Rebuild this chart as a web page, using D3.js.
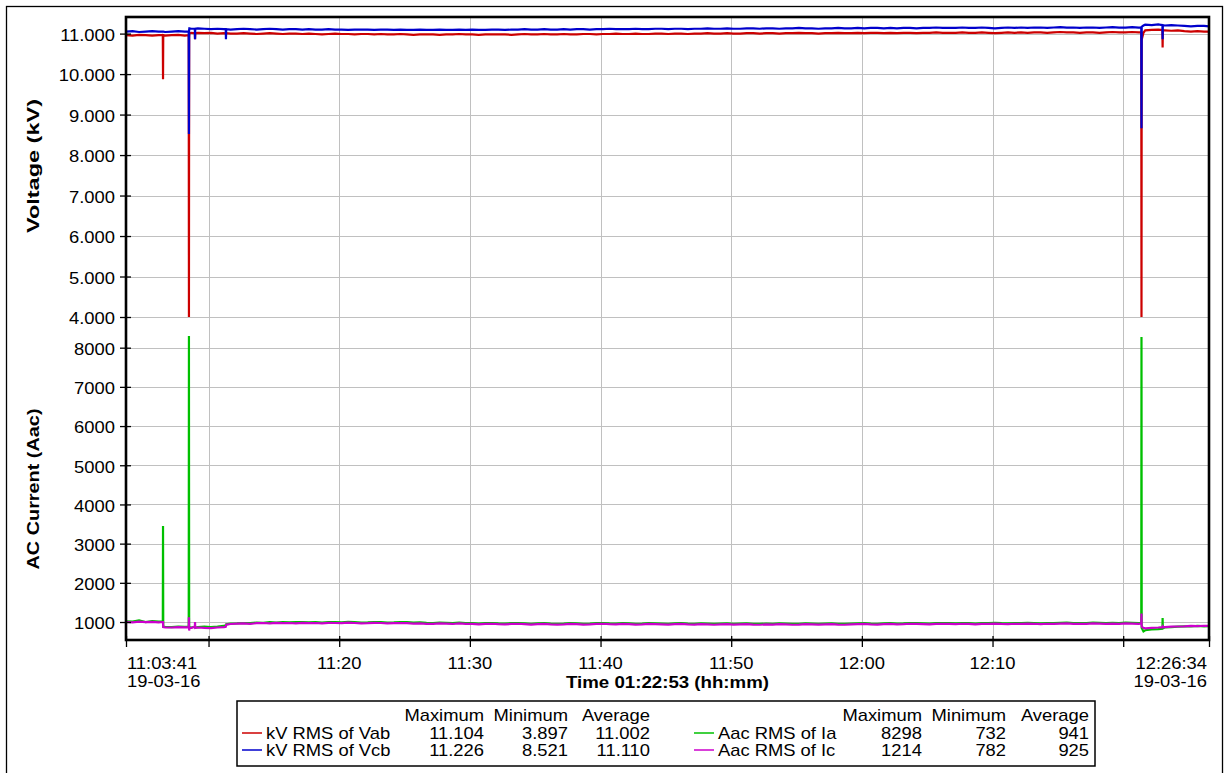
<!DOCTYPE html>
<html>
<head>
<meta charset="utf-8">
<script src="https://cdn.jsdelivr.net/npm/d3@7"></script>
<style>
  body { margin: 0; background: #fff; }
  text { font-family: Arial, "Liberation Sans", sans-serif; fill: #000; }
</style>
</head>
<body>
<svg id="chart" width="1232" height="773"></svg>
<script>
// ---- Recording window ----
const startStamp = "2016-03-19T11:03:41";
const endStamp = "2016-03-19T12:26:34";

// Sample times, seconds after the start of the recording
const sampleSec = [
  0, 30, 60, 90, 120, 150, 169, 170, 171, 180,
  210, 240, 270, 288, 289, 290, 291, 300, 316, 317,
  318, 330, 360, 390, 420, 450, 458, 459, 460, 480,
  510, 540, 570, 600, 630, 660, 690, 720, 750, 780,
  810, 840, 870, 900, 930, 960, 990, 1020, 1050, 1080,
  1110, 1140, 1170, 1200, 1230, 1260, 1290, 1320, 1350, 1380,
  1410, 1440, 1470, 1500, 1530, 1560, 1590, 1620, 1650, 1680,
  1710, 1740, 1770, 1800, 1830, 1860, 1890, 1920, 1950, 1980,
  2010, 2040, 2070, 2100, 2130, 2160, 2190, 2220, 2250, 2280,
  2310, 2340, 2370, 2400, 2430, 2460, 2490, 2520, 2550, 2580,
  2610, 2640, 2670, 2700, 2730, 2760, 2790, 2820, 2850, 2880,
  2910, 2940, 2970, 3000, 3030, 3060, 3090, 3120, 3150, 3180,
  3210, 3240, 3270, 3300, 3330, 3360, 3390, 3420, 3450, 3480,
  3510, 3540, 3570, 3600, 3630, 3660, 3690, 3720, 3750, 3780,
  3810, 3840, 3870, 3900, 3930, 3960, 3990, 4020, 4050, 4080,
  4110, 4140, 4170, 4200, 4230, 4260, 4290, 4320, 4350, 4380,
  4410, 4440, 4470, 4500, 4530, 4560, 4590, 4620, 4650,
  4662, 4663, 4664, 4672, 4680, 4710, 4740, 4759, 4760, 4761,
  4770, 4800, 4830, 4860, 4890, 4920, 4950, 4973
];

// kV RMS of Vab
const vab = [
  10.96, 10.95, 10.97, 10.96, 10.95, 10.96, 10.96, 9.87, 10.96, 10.95,
  10.96, 10.97, 10.95, 10.96, 3.897, 10.92, 11.00, 11.02, 11.01, 10.86,
  11.01, 11.02, 11.01, 11.02, 11.00, 11.01, 11.00, 11.00, 11.01, 11.00,
  11.00, 11.01, 11.00, 10.99, 11.00, 11.01, 11.00, 10.99, 11.00, 11.00,
  10.99, 11.00, 10.99, 10.98, 10.99, 11.00, 10.99, 10.99, 10.98, 10.99,
  10.99, 10.98, 10.99, 10.98, 10.98, 10.99, 10.98, 10.97, 10.98, 10.98,
  10.98, 10.97, 10.98, 10.98, 10.99, 10.98, 10.98, 10.97, 10.98, 10.98,
  10.98, 10.98, 10.97, 10.98, 10.99, 10.98, 10.98, 10.99, 10.98, 10.98,
  10.99, 10.98, 10.98, 10.99, 10.99, 10.98, 10.99, 10.99, 11.00, 10.99,
  10.99, 11.00, 10.99, 10.99, 11.00, 11.00, 10.99, 11.00, 11.00, 10.99,
  11.00, 11.00, 11.01, 11.00, 11.00, 11.01, 11.00, 11.00, 11.01, 11.01,
  11.00, 11.01, 11.01, 11.00, 11.01, 11.01, 11.02, 11.01, 11.01, 11.00,
  11.01, 11.01, 11.02, 11.01, 11.01, 11.02, 11.01, 11.02, 11.02, 11.01,
  11.02, 11.01, 11.02, 11.02, 11.01, 11.02, 11.02, 11.03, 11.02, 11.02,
  11.02, 11.03, 11.02, 11.02, 11.03, 11.02, 11.01, 11.02, 11.03, 11.02,
  11.03, 11.02, 11.03, 11.03, 11.02, 11.03, 11.04, 11.03, 11.03, 11.02,
  11.03, 11.03, 11.02, 11.03, 11.04, 11.03, 11.03, 11.04, 11.03,
  11.03, 3.95, 10.85, 11.02, 11.08, 11.09, 11.10, 11.09, 10.66, 11.08,
  11.08, 11.07, 11.08, 11.06, 11.05, 11.06, 11.05, 11.05
];

// kV RMS of Vcb
const vcb = [
  11.05, 11.06, 11.04, 11.05, 11.06, 11.05, 11.05, 11.05, 11.05, 11.04,
  11.05, 11.06, 11.05, 11.05, 8.521, 11.10, 11.13, 11.12, 11.12, 10.86,
  11.12, 11.13, 11.12, 11.11, 11.12, 11.11, 11.11, 10.86, 11.11, 11.10,
  11.11, 11.12, 11.11, 11.10, 11.11, 11.12, 11.11, 11.10, 11.11, 11.11,
  11.10, 11.11, 11.10, 11.10, 11.11, 11.10, 11.10, 11.09, 11.10, 11.10,
  11.10, 11.09, 11.10, 11.10, 11.09, 11.10, 11.09, 11.09, 11.10, 11.09,
  11.09, 11.10, 11.09, 11.09, 11.10, 11.09, 11.10, 11.09, 11.09, 11.10,
  11.10, 11.09, 11.10, 11.10, 11.11, 11.10, 11.10, 11.11, 11.10, 11.10,
  11.11, 11.10, 11.11, 11.11, 11.10, 11.11, 11.11, 11.12, 11.11, 11.11,
  11.11, 11.12, 11.11, 11.11, 11.12, 11.12, 11.11, 11.12, 11.12, 11.11,
  11.12, 11.12, 11.13, 11.12, 11.12, 11.13, 11.12, 11.12, 11.13, 11.13,
  11.12, 11.13, 11.13, 11.12, 11.13, 11.13, 11.14, 11.13, 11.13, 11.12,
  11.13, 11.13, 11.14, 11.13, 11.13, 11.14, 11.13, 11.14, 11.14, 11.13,
  11.14, 11.13, 11.14, 11.14, 11.13, 11.14, 11.14, 11.15, 11.14, 11.14,
  11.14, 11.15, 11.14, 11.14, 11.15, 11.14, 11.13, 11.14, 11.15, 11.14,
  11.15, 11.14, 11.15, 11.15, 11.14, 11.15, 11.16, 11.15, 11.15, 11.14,
  11.15, 11.15, 11.14, 11.15, 11.16, 11.15, 11.15, 11.16, 11.15,
  11.15, 8.66, 11.17, 11.20, 11.22, 11.21, 11.226, 11.21, 10.86, 11.21,
  11.20, 11.21, 11.20, 11.19, 11.18, 11.19, 11.19, 11.18
];

// Aac RMS of Ia
const ia = [
  1020, 1010, 1040, 1000, 1020, 1010, 1020, 3449, 880, 875,
  870, 880, 875, 880, 8298, 900, 870, 860, 880, 870,
  860, 870, 880, 870, 880, 900, 920, 930, 940, 960,
  965, 975, 970, 985, 980, 995, 985, 1000, 990, 995,
  1000, 990, 995, 985, 1000, 995, 990, 1005, 995, 985,
  990, 1000, 995, 985, 990, 1000, 995, 985, 990, 980,
  975, 985, 980, 970, 985, 975, 970, 960, 970, 975,
  965, 960, 970, 975, 965, 955, 965, 970, 960, 955,
  960, 970, 965, 955, 960, 970, 975, 965, 960, 970,
  965, 955, 960, 970, 965, 960, 955, 965, 970, 960,
  955, 965, 960, 950, 960, 965, 955, 960, 965, 955,
  950, 960, 955, 965, 960, 950, 955, 965, 960, 955,
  960, 965, 955, 950, 960, 965, 970, 960, 955, 965,
  970, 960, 965, 975, 970, 965, 960, 970, 975, 970,
  965, 975, 970, 960, 970, 975, 980, 970, 965, 975,
  970, 980, 975, 965, 975, 970, 980, 985, 975, 970,
  975, 985, 980, 970, 980, 975, 985, 980, 975,
  980, 8270, 850, 760, 790, 810, 820, 830, 1100, 840,
  860, 870, 880, 890, 885, 900, 890, 895
];

// Aac RMS of Ic
const ic = [
  1000, 990, 1010, 995, 1005, 990, 1000, 1000, 870, 865,
  860, 870, 865, 870, 1120, 782, 840, 850, 880, 1000,
  850, 860, 850, 845, 860, 870, 880, 900, 930, 950,
  960, 965, 955, 970, 975, 965, 980, 970, 975, 965,
  980, 970, 975, 965, 980, 975, 970, 985, 975, 965,
  970, 980, 975, 965, 970, 975, 970, 960, 965, 955,
  955, 965, 960, 950, 965, 955, 950, 940, 950, 955,
  945, 940, 950, 955, 945, 935, 945, 950, 940, 935,
  940, 950, 945, 935, 940, 950, 955, 945, 940, 950,
  945, 935, 940, 950, 945, 940, 935, 945, 950, 940,
  935, 945, 940, 930, 940, 945, 935, 940, 945, 935,
  930, 940, 935, 945, 940, 930, 935, 945, 940, 935,
  940, 945, 935, 930, 940, 945, 950, 940, 935, 945,
  950, 940, 945, 955, 950, 945, 940, 950, 955, 950,
  945, 955, 950, 940, 950, 955, 960, 950, 945, 955,
  950, 960, 955, 945, 955, 950, 960, 965, 955, 950,
  955, 965, 960, 950, 960, 955, 965, 960, 955,
  960, 1214, 880, 850, 840, 850, 860, 870, 880, 865,
  870, 880, 885, 890, 900, 895, 905, 900
];

// Axis ticks
const voltTicks = [4, 5, 6, 7, 8, 9, 10, 11];
const currTicks = [1000, 2000, 3000, 4000, 5000, 6000, 7000, 8000];
const gridTimes = ["11:10", "11:20", "11:30", "11:40", "11:50", "12:00", "12:10", "12:20"];
const labeledTimes = ["11:20", "11:30", "11:40", "11:50", "12:00", "12:10"];
const dateLabel = "19-03-16";
const timeTitle = "Time 01:22:53 (hh:mm)";

// Summary table
const statHeaders = ["Maximum", "Minimum", "Average"];
const seriesNames = ["kV RMS of Vab", "kV RMS of Vcb", "Aac RMS of Ia", "Aac RMS of Ic"];
const seriesColors = ["#cc0000", "#0000cc", "#00c000", "#cc00cc"];
const statMax = ["11.104", "11.226", "8298", "1214"];
const statMin = ["3.897", "8.521", "732", "782"];
const statAvg = ["11.002", "11.110", "941", "925"];

// ---- Drawing ----
const svg = d3.select("#chart");
const FONT = 17;
const WIDEN = 1.08;   // the lettering is set slightly wide
const plot = { left: 126, right: 1209, top: 17, split: 317, bottom: 640 };

const t0 = new Date(startStamp);
const t1 = new Date(endStamp);
const atSec = s => new Date(t0.getTime() + s * 1000);
const atClock = hm => new Date(`2016-03-19T${hm}:00`);

const x = d3.scaleTime().domain([t0, t1]).range([plot.left, plot.right]);
const yV = d3.scaleLinear().domain([4, 11.41]).range([plot.split, plot.top]);
const yI = d3.scaleLinear().domain([541, 8783]).range([plot.bottom, plot.split]);

// widen text horizontally by a factor, or force it to a given length
function widen(sel, k) {
  sel.each(function () {
    const n = this.getComputedTextLength();
    this.setAttribute("textLength", (n * k).toFixed(1));
    this.setAttribute("lengthAdjust", "spacingAndGlyphs");
  });
}
function fitLength(sel, len) {
  sel.attr("textLength", len).attr("lengthAdjust", "spacingAndGlyphs");
}

// outer frame
svg.append("rect").attr("x", 6.5).attr("y", 6.5).attr("width", 1216).attr("height", 790)
  .attr("fill", "none").attr("stroke", "#000").attr("stroke-width", 1.3);

// clip regions for the two panes
const defs = svg.append("defs");
defs.append("clipPath").attr("id", "clipV").append("rect")
  .attr("x", plot.left).attr("y", plot.top).attr("width", plot.right - plot.left).attr("height", plot.split - plot.top);
defs.append("clipPath").attr("id", "clipI").append("rect")
  .attr("x", plot.left).attr("y", plot.split).attr("width", plot.right - plot.left).attr("height", plot.bottom - plot.split);

// grid
const grid = svg.append("g").attr("stroke", "#c0c0c0").attr("stroke-width", 1);
gridTimes.forEach(hm => {
  const gx = Math.round(x(atClock(hm))) + 0.5;
  grid.append("line").attr("x1", gx).attr("x2", gx).attr("y1", plot.top).attr("y2", plot.bottom);
});
voltTicks.forEach(v => {
  const gy = Math.round(yV(v)) + 0.5;
  grid.append("line").attr("x1", plot.left).attr("x2", plot.right).attr("y1", gy).attr("y2", gy);
});
currTicks.forEach(v => {
  const gy = Math.round(yI(v)) + 0.5;
  grid.append("line").attr("x1", plot.left).attr("x2", plot.right).attr("y1", gy).attr("y2", gy);
});

// data traces
const pts = sampleSec.map((s, i) => ({ t: atSec(s), vab: vab[i], vcb: vcb[i], ia: ia[i], ic: ic[i] }));
const traces = [
  { key: "vab", y: yV, clip: "clipV", color: seriesColors[0] },
  { key: "vcb", y: yV, clip: "clipV", color: seriesColors[1] },
  { key: "ia", y: yI, clip: "clipI", color: seriesColors[2] },
  { key: "ic", y: yI, clip: "clipI", color: seriesColors[3] }
];
traces.forEach(tr => {
  const line = d3.line().x(d => x(d.t)).y(d => tr.y(d[tr.key]));
  svg.append("path").datum(pts)
    .attr("clip-path", `url(#${tr.clip})`)
    .attr("d", line)
    .attr("fill", "none")
    .attr("stroke", tr.color)
    .attr("stroke-width", 2.2)
    .attr("stroke-linejoin", "miter");
});

// axes
const tickDates = [t0, ...gridTimes.map(atClock), t1];
const axisStyle = g => { g.select(".domain").remove(); g.selectAll("line").attr("stroke", "#000").attr("stroke-width", 1.3); };

svg.append("g").attr("class", "yaxis").attr("transform", `translate(${plot.left},0)`)
  .call(d3.axisLeft(yV).tickValues(voltTicks).tickSize(6).tickPadding(5).tickFormat(d3.format(".3f")))
  .call(axisStyle);
svg.append("g").attr("transform", `translate(${plot.left},0)`)
  .call(d3.axisRight(yV).tickValues(voltTicks).tickSize(5).tickFormat(""))
  .call(axisStyle);
svg.append("g").attr("class", "yaxis").attr("transform", `translate(${plot.left},0)`)
  .call(d3.axisLeft(yI).tickValues(currTicks).tickSize(6).tickPadding(5).tickFormat(d3.format("d")))
  .call(axisStyle);
svg.append("g").attr("transform", `translate(${plot.left},0)`)
  .call(d3.axisRight(yI).tickValues(currTicks).tickSize(5).tickFormat(""))
  .call(axisStyle);
svg.append("g").attr("transform", `translate(0,${plot.bottom})`)
  .call(d3.axisBottom(x).tickValues(tickDates).tickSize(7).tickFormat(""))
  .call(axisStyle);
svg.append("g").attr("transform", `translate(0,${plot.bottom})`)
  .call(d3.axisTop(x).tickValues(tickDates).tickSize(4).tickFormat(""))
  .call(axisStyle);

svg.selectAll(".yaxis .tick text").attr("font-size", FONT)
  .attr("font-family", "Arial, 'Liberation Sans', sans-serif").attr("fill", "#000").attr("dy", "0.4em");
widen(svg.selectAll(".yaxis .tick text"), WIDEN);

// time labels
const xl = svg.append("g").attr("font-size", FONT);
labeledTimes.forEach(hm => {
  xl.append("text").attr("x", x(atClock(hm))).attr("y", 669).attr("text-anchor", "middle").text(hm);
});
xl.append("text").attr("x", plot.left + 1).attr("y", 669).attr("text-anchor", "start").text(d3.timeFormat("%H:%M:%S")(t0));
xl.append("text").attr("x", plot.left + 1).attr("y", 687).attr("text-anchor", "start").text(dateLabel);
xl.append("text").attr("x", plot.right - 2).attr("y", 669).attr("text-anchor", "end").text(d3.timeFormat("%H:%M:%S")(t1));
xl.append("text").attr("x", plot.right - 2).attr("y", 687).attr("text-anchor", "end").text(dateLabel);
widen(xl.selectAll("text"), WIDEN);
fitLength(
  xl.append("text").attr("x", (plot.left + plot.right) / 2).attr("y", 688).attr("text-anchor", "middle")
    .attr("font-weight", "bold").text(timeTitle),
  203);

// axis titles
fitLength(
  svg.append("text").attr("transform", "translate(39,166) rotate(-90)").attr("text-anchor", "middle")
    .attr("font-size", FONT).attr("font-weight", "bold").text("Voltage (kV)"),
  134);
fitLength(
  svg.append("text").attr("transform", "translate(39,489) rotate(-90)").attr("text-anchor", "middle")
    .attr("font-size", FONT).attr("font-weight", "bold").text("AC Current (Aac)"),
  161);

// plot frame
svg.append("rect").attr("x", plot.left).attr("y", plot.top)
  .attr("width", plot.right - plot.left).attr("height", plot.bottom - plot.top)
  .attr("fill", "none").attr("stroke", "#000").attr("stroke-width", 2.6);

// summary legend
const lg = svg.append("g").attr("font-size", FONT);
lg.append("rect").attr("x", 237).attr("y", 701).attr("width", 858).attr("height", 65)
  .attr("fill", "#fff").attr("stroke", "#000").attr("stroke-width", 1.5);
const groups = [
  { swatch: 242, label: 266, cols: [484, 568, 650], rows: [0, 1] },
  { swatch: 694, label: 718, cols: [922, 1006, 1089], rows: [2, 3] }
];
const rowY = [739, 756];
groups.forEach(gp => {
  statHeaders.forEach((h, k) => lg.append("text").attr("x", gp.cols[k]).attr("y", 721).attr("text-anchor", "end").text(h));
  gp.rows.forEach((si, r) => {
    const y = rowY[r];
    lg.append("line").attr("x1", gp.swatch).attr("x2", gp.swatch + 20).attr("y1", y - 6).attr("y2", y - 6)
      .attr("stroke", seriesColors[si]).attr("stroke-width", 1.5);
    lg.append("text").attr("x", gp.label).attr("y", y).text(seriesNames[si]);
    [statMax[si], statMin[si], statAvg[si]].forEach((v, k) =>
      lg.append("text").attr("x", gp.cols[k]).attr("y", y).attr("text-anchor", "end").text(v));
  });
});
widen(lg.selectAll("text"), WIDEN);
</script>
</body>
</html>
